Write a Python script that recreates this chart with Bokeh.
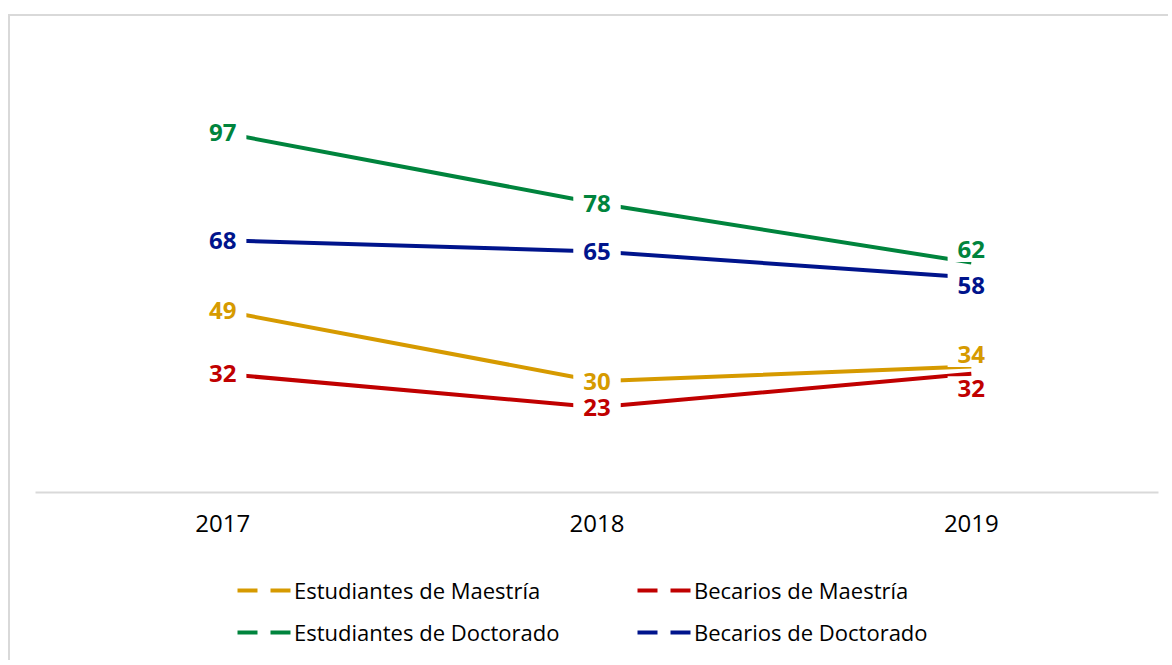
from bokeh.plotting import figure
from bokeh.layouts import column
from bokeh.models import FactorRange, Range1d, Legend, LegendItem
from bokeh.core.properties import value
from bokeh.embed import file_html
from bokeh.resources import INLINE

years = ["2017", "2018", "2019"]
est_maestria = [49, 30, 34]
bec_maestria = [32, 23, 32]
est_doctorado = [97, 78, 62]
bec_doctorado = [68, 65, 58]

names = ["Estudiantes de Maestría", "Becarios de Maestría",
         "Estudiantes de Doctorado", "Becarios de Doctorado"]
series = [est_maestria, bec_maestria, est_doctorado, bec_doctorado]
colors = ["#D69A00", "#C00000", "#00843D", "#00148C"]
# label vertical nudges in screen px (styling only)
label_offsets = [[0, 0, -12], [0, 0, 15], [0, 0, -13], [0, 0, 8]]

BORDER = "2px solid #d9d9d9"

p = figure(x_range=FactorRange(*years, range_padding=0), y_range=Range1d(0, 120),
           width=1160, height=536, output_backend="svg", toolbar_location=None,
           y_axis_location=None, min_border_left=25, min_border_right=12,
           min_border_top=31, min_border_bottom=60,
           styles={"margin-top": "14px", "margin-left": "8px",
                   "border-left": BORDER, "border-top": BORDER})
p.xgrid.visible = False
p.ygrid.visible = False
p.outline_line_color = None
p.background_fill_color = "white"
p.border_fill_color = "white"

ax = p.xaxis[0]
ax.axis_line_color = "#d9d9d9"
ax.axis_line_width = 2
ax.major_tick_line_color = None
ax.minor_tick_line_color = None
ax.major_tick_out = 0
ax.major_tick_in = 0
ax.major_label_text_font = "Open Sans"
ax.major_label_text_font_size = "24px"
ax.major_label_text_color = "#000000"
ax.major_label_standoff = 22

for vals, c in zip(series, colors):
    p.line(years, vals, line_color=c, line_width=4)

for vals, c, offs in zip(series, colors, label_offsets):
    p.text(x=years, y=vals, text=[str(v) for v in vals], y_offset=offs,
           text_align="center", text_baseline="middle",
           text_font=value("Open Sans"), text_font_style="bold",
           text_font_size="24px", text_color=c,
           background_fill_color="white",
           padding=dict(left=10, right=10, top=4, bottom=4))

# legend strip
q = figure(x_range=Range1d(0, 1), y_range=Range1d(0, 1),
           width=1160, height=110, output_backend="svg", toolbar_location=None,
           x_axis_location=None, y_axis_location=None,
           min_border_left=25, min_border_right=12, min_border_top=0,
           min_border_bottom=0,
           styles={"margin-left": "8px", "border-left": BORDER})
q.xgrid.visible = False
q.ygrid.visible = False
q.outline_line_color = None
q.background_fill_color = "white"
q.border_fill_color = "white"

nan = float("nan")
proxies = {}
for n, c in zip(names, colors):
    proxies[n] = q.line(x=[nan, nan], y=[nan, nan], line_color=c,
                        line_width=4, line_dash="20 13")

# legend fills column-major: order items so rows read EM|BM, ED|BD
order = [names[0], names[2], names[1], names[3]]
items = [LegendItem(label=n, renderers=[proxies[n]]) for n in order]

legend = Legend(items=items, ncols=2, location=(202, 13), padding=0, margin=0,
                spacing=12, label_width=331, label_height=30,
                glyph_width=55, glyph_height=20,
                label_standoff=2, border_line_color=None, background_fill_alpha=0,
                label_text_font="Open Sans", label_text_font_size="22px",
                label_text_color="#000000")
q.add_layout(legend, "center")

layout = column(p, q, spacing=0)
open("out.html", "w").write(file_html(layout, INLINE))
